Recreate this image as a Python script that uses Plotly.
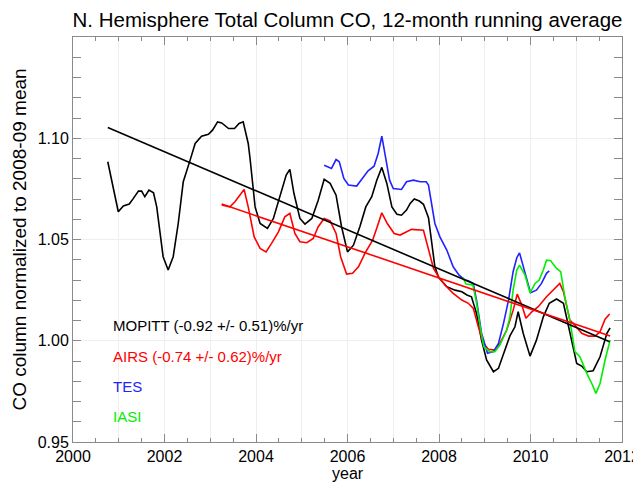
import plotly.graph_objects as go

# %%

FONT = "Liberation Sans"
AXIS_GRAY = "#8a8a8a"
GRID_GRAY = "#eeeeee"

# MOPITT, 12-month running average (normalized)
MOPITT_YEAR = [2000.76, 2000.99, 2001.10, 2001.23, 2001.32, 2001.43, 2001.50, 2001.57, 2001.66,
               2001.76, 2001.83, 2001.90, 2001.97, 2002.08, 2002.19, 2002.30, 2002.41, 2002.56,
               2002.67, 2002.81, 2002.96, 2003.05, 2003.16, 2003.25, 2003.40, 2003.53, 2003.63,
               2003.72, 2003.83, 2003.87, 2003.93, 2003.98, 2004.09, 2004.25, 2004.38, 2004.52,
               2004.66, 2004.74, 2004.83, 2004.96, 2005.07, 2005.22, 2005.36, 2005.49, 2005.62,
               2005.75, 2005.87, 2006.00, 2006.13, 2006.27, 2006.40, 2006.53, 2006.64, 2006.75,
               2006.86, 2006.97, 2007.08, 2007.18, 2007.29, 2007.37, 2007.46, 2007.57, 2007.66,
               2007.77, 2007.84, 2007.91, 2007.99, 2008.17, 2008.35, 2008.50, 2008.61, 2008.71,
               2008.82, 2008.93, 2009.04, 2009.19, 2009.30, 2009.41, 2009.55, 2009.66, 2009.73,
               2009.84, 2009.99, 2010.13, 2010.28, 2010.41, 2010.57, 2010.72, 2010.83, 2010.94,
               2011.01, 2011.12, 2011.23, 2011.37, 2011.52, 2011.67, 2011.74]
MOPITT_CO = [1.0884, 1.0637, 1.0666, 1.0675, 1.0703, 1.0739, 1.0739, 1.0711, 1.0744,
             1.0731, 1.0661, 1.0546, 1.0415, 1.0349, 1.0415, 1.0579, 1.0785, 1.0892,
             1.0974, 1.1010, 1.1020, 1.1040, 1.1081, 1.1076, 1.1048, 1.1048, 1.1073,
             1.1081, 1.0974, 1.0900, 1.0760, 1.0661, 1.0579, 1.0555, 1.0604, 1.0711,
             1.0818, 1.0846, 1.0727, 1.0604, 1.0576, 1.0604, 1.0694, 1.0797, 1.0777,
             1.0719, 1.0563, 1.0439, 1.0472, 1.0563, 1.0661, 1.0711, 1.0793, 1.0856,
             1.0777, 1.0661, 1.0625, 1.0620, 1.0645, 1.0678, 1.0700, 1.0690, 1.0674,
             1.0608, 1.0480, 1.0365, 1.0313, 1.0267, 1.0250, 1.0242, 1.0226, 1.0217,
             1.0135, 1.0003, 0.9905, 0.9847, 0.9864, 0.9938, 1.0024, 1.0069, 1.0143,
             1.0037, 0.9924, 1.0003, 1.0118, 1.0185, 1.0206, 1.0185, 1.0069, 0.9946,
             0.9888, 0.9875, 0.9847, 0.9852, 0.9921, 1.0037, 1.0064]

# AIRS
AIRS_YEAR = [2003.25, 2003.43, 2003.54, 2003.65, 2003.74, 2003.83, 2003.96, 2004.09, 2004.22,
             2004.34, 2004.49, 2004.63, 2004.74, 2004.85, 2004.96, 2005.11, 2005.25, 2005.36,
             2005.49, 2005.62, 2005.75, 2005.85, 2005.98, 2006.11, 2006.24, 2006.38, 2006.55,
             2006.65, 2006.75, 2006.87, 2007.02, 2007.15, 2007.29, 2007.40, 2007.66, 2007.77,
             2007.88, 2007.99, 2008.13, 2008.31, 2008.50, 2008.64, 2008.75, 2008.86, 2008.97,
             2009.08, 2009.22, 2009.33, 2009.48, 2009.62, 2009.71, 2009.81, 2009.90, 2010.03,
             2010.17, 2010.35, 2010.54, 2010.64, 2010.72, 2010.79, 2010.86, 2010.97, 2011.12,
             2011.27, 2011.41, 2011.52, 2011.63, 2011.73]
AIRS_CO = [1.0670, 1.0661, 1.0686, 1.0719, 1.0747, 1.0661, 1.0513, 1.0456, 1.0439,
           1.0481, 1.0538, 1.0612, 1.0629, 1.0530, 1.0489, 1.0484, 1.0505, 1.0563,
           1.0604, 1.0592, 1.0530, 1.0415, 1.0329, 1.0333, 1.0365, 1.0431, 1.0497,
           1.0563, 1.0632, 1.0579, 1.0530, 1.0522, 1.0538, 1.0550, 1.0546, 1.0448,
           1.0357, 1.0316, 1.0275, 1.0234, 1.0201, 1.0185, 1.0160, 1.0069, 0.9987,
           0.9958, 0.9954, 0.9987, 1.0053, 1.0150, 1.0230, 1.0176, 1.0111, 1.0143,
           1.0168, 1.0217, 1.0259, 1.0283, 1.0242, 1.0168, 1.0102, 1.0077, 1.0037,
           1.0023, 1.0023, 1.0044, 1.0106, 1.0132]

# TES
TES_YEAR = [2005.49, 2005.65, 2005.75, 2005.82, 2005.92, 2006.02, 2006.20, 2006.35, 2006.45,
            2006.58, 2006.67, 2006.75, 2006.82, 2006.92, 2007.00, 2007.18, 2007.29, 2007.44,
            2007.59, 2007.72, 2007.77, 2007.84, 2007.91, 2008.02, 2008.17, 2008.31, 2008.44,
            2008.57, 2008.64, 2008.75, 2008.82, 2008.93, 2009.06, 2009.19, 2009.30, 2009.41,
            2009.52, 2009.62, 2009.70, 2009.76, 2009.84, 2009.92, 2010.00, 2010.13, 2010.24,
            2010.35, 2010.41]
TES_CO = [1.0867, 1.0851, 1.0895, 1.0884, 1.0802, 1.0769, 1.0764, 1.0810, 1.0839,
          1.0862, 1.0925, 1.1010, 1.0925, 1.0793, 1.0752, 1.0747, 1.0785, 1.0793,
          1.0785, 1.0785, 1.0769, 1.0678, 1.0579, 1.0513, 1.0448, 1.0365, 1.0324,
          1.0300, 1.0296, 1.0283, 1.0201, 1.0037, 0.9938, 0.9946, 0.9987, 1.0086,
          1.0201, 1.0341, 1.0410, 1.0434, 1.0365, 1.0300, 1.0237, 1.0250, 1.0283,
          1.0333, 1.0345]

# IASI
IASI_YEAR = [2008.52, 2008.59, 2008.74, 2008.81, 2008.90, 2008.98, 2009.11, 2009.22, 2009.33,
             2009.48, 2009.55, 2009.62, 2009.70, 2009.76, 2009.88, 2009.99, 2010.10, 2010.19,
             2010.28, 2010.35, 2010.44, 2010.57, 2010.66, 2010.75, 2010.86, 2010.97, 2011.08,
             2011.23, 2011.34, 2011.43, 2011.52, 2011.63, 2011.74]
IASI_CO = [1.0313, 1.0280, 1.0275, 1.0201, 1.0069, 0.9970, 0.9946, 0.9946, 0.9979,
           1.0053, 1.0118, 1.0250, 1.0349, 1.0374, 1.0324, 1.0237, 1.0283, 1.0300,
           1.0349, 1.0398, 1.0395, 1.0357, 1.0341, 1.0217, 1.0102, 0.9946, 0.9921,
           0.9839, 0.9789, 0.9740, 0.9789, 0.9905, 1.0003]

# linear trends (end points)
MOPITT_TREND_YEAR = [2000.76, 2011.73]
MOPITT_TREND_CO = [1.1053, 0.9995]
AIRS_TREND_YEAR = [2003.25, 2011.74]
AIRS_TREND_CO = [1.0675, 1.0023]

LABELS = ["MOPITT (-0.92 +/- 0.51)%/yr", "AIRS (-0.74 +/- 0.62)%/yr", "TES", "IASI"]
LABEL_Y = [1.0076, 0.9923, 0.9775, 0.9627]

SERIES = [
    ("MOPITT", MOPITT_YEAR, MOPITT_CO, "black"),
    ("AIRS", AIRS_YEAR, AIRS_CO, "#ff0000"),
    ("TES", TES_YEAR, TES_CO, "#2222ff"),
    ("IASI", IASI_YEAR, IASI_CO, "#00ee00"),
]

X_TICKS = [2000, 2002, 2004, 2006, 2008, 2010, 2012]
Y_TICKS = [0.95, 1.00, 1.05, 1.10]

# %%

fig = go.Figure()

for name, x, y, color in SERIES:
    fig.add_trace(
        go.Scatter(x=x, y=y, mode="lines", name=name,
                   line=dict(color=color, width=1.6), showlegend=False)
    )

# trend lines go on the overlay axis that carries the yearly grid
for x, y, color in [(MOPITT_TREND_YEAR, MOPITT_TREND_CO, "black"),
                    (AIRS_TREND_YEAR, AIRS_TREND_CO, "#ff0000")]:
    fig.add_trace(
        go.Scatter(x=x, y=y, mode="lines", xaxis="x2",
                   line=dict(color=color, width=1.6), showlegend=False)
    )

for text, y, (_, _, _, color) in zip(LABELS, LABEL_Y, SERIES):
    fig.add_annotation(
        text=text, x=2000.82, y=y, xref="x", yref="y",
        xanchor="left", yanchor="middle", showarrow=False,
        font=dict(family=FONT, size=15, color=color)
    )

# "year" placed by hand under the tick labels
fig.add_annotation(
    text="year", x=0.5, y=0.0, xref="paper", yref="paper",
    xanchor="center", yanchor="top", yshift=-21, showarrow=False,
    font=dict(family=FONT, size=16, color="black")
)

# the page body adds 8px on the top and left, so the figure is 8px smaller
fig.update_layout(
    title=dict(text="N. Hemisphere Total Column CO, 12-month running average",
               x=0.5, xref="paper", y=0.975, yref="container", yanchor="middle",
               font=dict(family=FONT, size=20.5, color="black")),
    width=633,
    height=475,
    margin=dict(l=65, r=19, t=29, b=41),
    plot_bgcolor="white",
    paper_bgcolor="white",
    font=dict(family=FONT, size=16, color="black"),
    xaxis=dict(
        range=[2000, 2012], tickvals=X_TICKS, ticks="inside", ticklen=8,
        tickcolor=AXIS_GRAY, showline=True, linecolor=AXIS_GRAY, mirror="allticks",
        showgrid=False, zeroline=False, automargin=False,
        minor=dict(dtick=0.5, ticks="inside", ticklen=4, tickcolor=AXIS_GRAY),
    ),
    xaxis2=dict(
        range=[2000, 2012], overlaying="x", dtick=1, showgrid=True,
        gridcolor=GRID_GRAY, gridwidth=1, showticklabels=False, ticks="",
        showline=False, zeroline=False, automargin=False,
    ),
    yaxis=dict(
        range=[0.95, 1.15], tickvals=Y_TICKS, tickformat=".2f", ticks="inside", ticklen=8,
        tickcolor=AXIS_GRAY, showline=True, linecolor=AXIS_GRAY, mirror="allticks",
        showgrid=True, gridcolor=GRID_GRAY, zeroline=False, automargin=False,
        minor=dict(dtick=0.01, ticks="inside", ticklen=4, tickcolor=AXIS_GRAY),
        title=dict(text="CO column normalized to 2008-09 mean", standoff=6),
    ),
)

fig.write_html("out.html")
